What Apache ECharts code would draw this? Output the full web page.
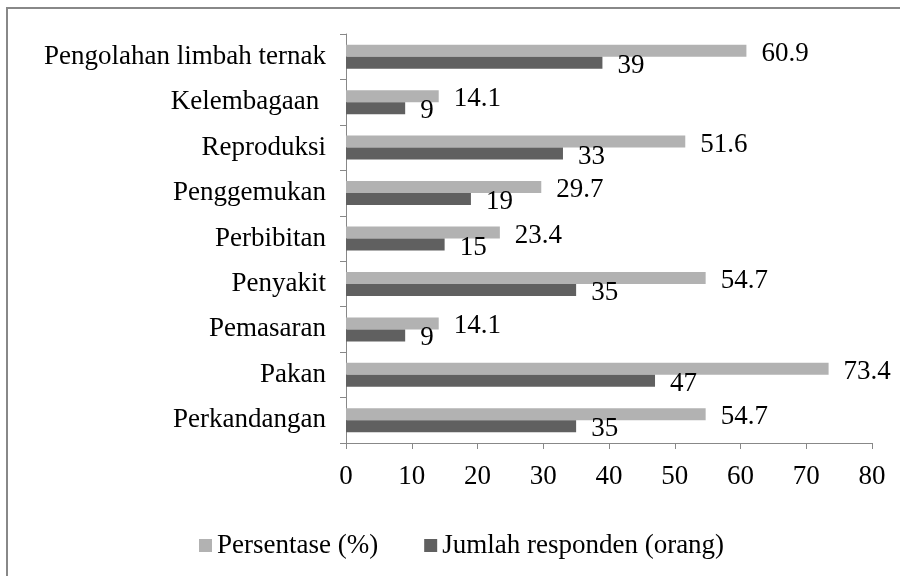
<!DOCTYPE html>
<html><head><meta charset="utf-8">
<script src="https://cdn.jsdelivr.net/npm/echarts@6/dist/echarts.min.js"></script>
<style>html,body{margin:0;padding:0;background:#fff}#c{width:900px;height:576px}</style>
</head><body><div id="c"></div>
<script>
const categories = ["Perkandangan","Pakan","Pemasaran","Penyakit","Perbibitan","Penggemukan","Reproduksi","Kelembagaan ","Pengolahan limbah ternak"];
const persentase = [54.7,73.4,14.1,54.7,23.4,29.7,51.6,14.1,60.9];
const jumlah = [35,47,9,35,15,19,33,9,39];
const xTicks = [0,10,20,30,40,50,60,70,80];
const FONT = "'Liberation Serif','Times New Roman',serif";
const chart = echarts.init(document.getElementById('c'), null, {renderer:'canvas'});
chart.setOption({
  animation:false,
  backgroundColor:'#fff',
  textStyle:{fontFamily:FONT},
  graphic:[{type:'rect',shape:{x:7,y:8,width:905,height:580},style:{fill:'none',stroke:'#888',lineWidth:2},z:-1}],
  grid:{left:346,right:28,top:34,bottom:133,containLabel:false},
  legend:{bottom:12,left:194,itemWidth:13,itemHeight:13,itemGap:46,icon:'rect',
    textStyle:{fontFamily:FONT,fontSize:27,color:'#000'},
    data:['Persentase (%)','Jumlah responden (orang)']},
  xAxis:{type:'value',min:0,max:80,interval:10,
    axisLine:{show:true,lineStyle:{color:'#888'}},
    axisTick:{show:true,length:6,inside:false,lineStyle:{color:'#888'}},
    splitLine:{show:false},
    axisLabel:{fontFamily:FONT,fontSize:27,color:'#000',margin:20,formatter:v=>xTicks.includes(v)?String(v):''}},
  yAxis:{type:'category',data:categories,
    axisLine:{show:true,lineStyle:{color:'#888'}},
    axisTick:{show:true,length:6,lineStyle:{color:'#888'}},
    axisLabel:{fontFamily:FONT,fontSize:27,color:'#000',margin:20}},
  series:[
    {name:'Persentase (%)',type:'bar',data:persentase,barWidth:12,barGap:'0%',
     itemStyle:{color:'#b2b2b2'},
     label:{show:true,position:'right',distance:15,offset:[0,3],fontFamily:FONT,fontSize:27,color:'#000'}},
    {name:'Jumlah responden (orang)',type:'bar',data:jumlah,barWidth:12,barGap:'0%',
     itemStyle:{color:'#606060'},
     label:{show:true,position:'right',distance:15,offset:[0,3],fontFamily:FONT,fontSize:27,color:'#000'}}
  ]
});
</script></body></html>
